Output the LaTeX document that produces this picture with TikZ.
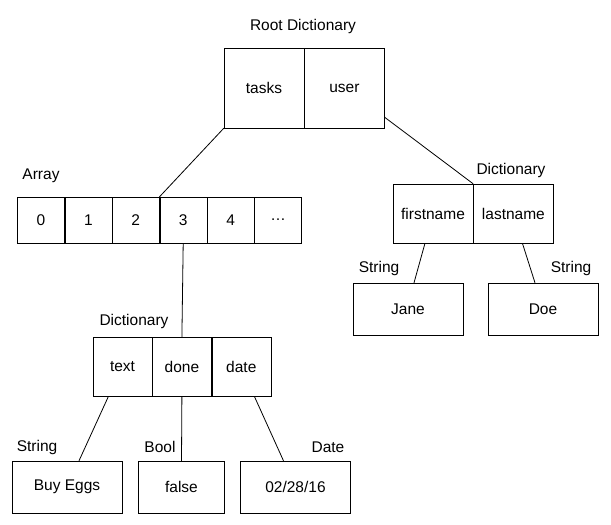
\documentclass[tikz,border=0pt]{standalone}
\usepackage{fontspec}
\setmainfont{Liberation Sans}
\usepackage{tikz}
\usetikzlibrary{positioning}

\begin{document}
\begin{tikzpicture}[
    x=1pt, y=1pt,
    cell/.style={rectangle, draw, inner sep=0pt, font=\fontsize{15.5}{18}\selectfont},
    key/.style={cell, minimum width=80pt, minimum height=80pt},
    item/.style={cell, minimum width=47pt, minimum height=46pt},
    field/.style={cell, minimum width=80pt, minimum height=59pt},
    small/.style={cell, minimum width=59pt, minimum height=59pt},
    leaf/.style={cell, minimum width=110pt, minimum height=52pt},
    tag/.style={inner sep=0pt, font=\fontsize{15.5}{18}\selectfont},
    link/.style={line width=0.8pt},
    node distance=0pt
]
\useasboundingbox (0,0) rectangle (611,-525);

% root
\node[key] (tasks) at (264,-88) {tasks};
\node[key, right=of tasks] (user) {user};
\node[tag] (rootlbl) at (303,-26) {Root Dictionary};

% array
\node[item] (a0) at (41,-220) {0};
\node[item, right=of a0] (a1) {1};
\node[item, right=of a1] (a2) {2};
\node[item, right=of a2] (a3) {3};
\node[item, right=of a3] (a4) {4};
\node[item, right=of a4] (a5) {\dots};
\node[tag] (arraylbl) at (41,-176) {Array};

% user dictionary
\node[field] (first) at (433,-213.5) {firstname};
\node[field, right=of first] (last) {lastname};
\node[tag] (userlbl) at (511,-170) {Dictionary};

\node[leaf] (jane) at (408,-309) {Jane};
\node[leaf] (doe) at (543,-309) {Doe};
\node[tag] (janelbl) at (379,-268) {String};
\node[tag] (doelbl) at (571,-268) {String};

% task dictionary
\node[small] (text) at (122.5,-366.5) {text};
\node[small, right=of text] (done) {done};
\node[small, right=of done] (date) {date};
\node[tag] (tasklbl) at (134,-321) {Dictionary};

\node[leaf] (eggs) at (67,-487) {Buy Eggs};
\node[leaf, minimum width=86pt] (false) at (181.5,-487) {false};
\node[leaf] (day) at (295.5,-487) {02/28/16};
\node[tag] (eggslbl) at (37,-447) {String};
\node[tag] (falselbl) at (160,-447) {Bool};
\node[tag] (daylbl) at (328,-447) {Date};

\draw[link] (tasks.south west) -- (a3.north west);
\draw[link] ([yshift=11pt]user.south east) -- (first.north east);
\draw[link] (a3.south) -- (done.north);
\draw[link] ([xshift=-8pt]first.south) -- ([xshift=6pt]jane.north);
\draw[link] ([xshift=9pt]last.south) -- ([xshift=-8pt]doe.north);
\draw[link] ([xshift=-14pt]text.south) -- ([xshift=12pt]eggs.north);
\draw[link] (done.south) -- (false.north);
\draw[link] ([xshift=13pt]date.south) -- ([xshift=-12pt]day.north);

\end{tikzpicture}
\end{document}
